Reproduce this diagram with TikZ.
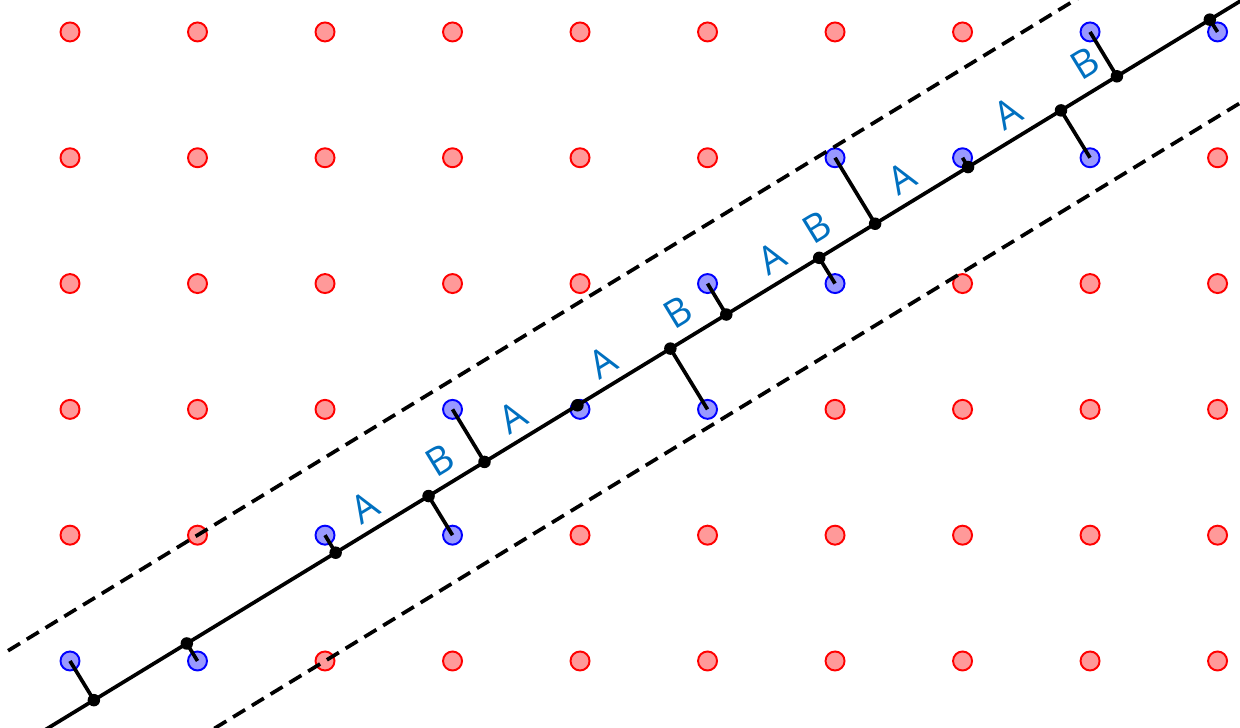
\documentclass[tikz,border=0pt]{standalone}
\usepackage{fontspec}
\setsansfont{Open Sans}
\usetikzlibrary{calc}
\definecolor{tilecol}{HTML}{0070C0}
\definecolor{offfill}{HTML}{FF9999}
\definecolor{onfill}{HTML}{9999FF}

\begin{document}
\begin{tikzpicture}[
  x=2.55cm, y=2.516cm,
  latpt/.style={circle, draw=red, fill=offfill, line width=1.1pt,
                minimum size=0.38cm, inner sep=0pt},
  inpt/.style={latpt, draw=blue, fill=onfill},
  projdot/.style={circle, fill=black, minimum size=0.25cm, inner sep=0pt},
  cutline/.style={line width=2.1pt},
  window/.style={line width=2.1pt, dash pattern=on 8pt off 4.5pt},
  tile/.style={text=tilecol, font=\sffamily\fontsize{22}{26}\selectfont, rotate=31.4}
]
\pgfmathsetmacro{\tilt}{0.618034}
\useasboundingbox (-0.549,-0.5326) rectangle (9.176,5.254);
\clip (-0.549,-0.5326) rectangle (9.176,5.254);

% lattice, points inside the strip in blue
\foreach \i in {0,...,9}
  \foreach \j in {0,...,5} {
    \pgfmathtruncatemacro{\inside}{(\j > \tilt*(\i-2)) && (\j < 1+\tilt*(\i-1))}
    \ifnum\inside=1
      \node[inpt] (p-\i-\j) at (\i,\j) {};
    \else
      \node[latpt] (p-\i-\j) at (\i,\j) {};
    \fi
  }

% strip and cut line
\coordinate (up-a) at (-0.486, {1+\tilt*(-0.486-1)});
\coordinate (up-b) at (9.3, {1+\tilt*(9.3-1)});
\coordinate (lo-a) at (-0.486, {\tilt*(-0.486-2)});
\coordinate (lo-b) at (9.3, {\tilt*(9.3-2)});
\coordinate (mid-a) at (-0.486, {0.5+\tilt*(-0.486-1.5)});
\coordinate (mid-b) at (9.3, {0.5+\tilt*(9.3-1.5)});

% projections onto the cut line
\foreach \i/\j in {0/0,1/0,2/1,3/1,3/2,4/2,5/2,5/3,6/3,6/4,7/4,8/4,8/5,9/5} {
  \coordinate (q-\i-\j) at ($(mid-a)!(p-\i-\j)!(mid-b)$);
  \draw[cutline] (p-\i-\j.center) -- (q-\i-\j);
}
\draw[window] (up-a) -- (up-b);
\draw[window] (lo-a) -- (lo-b);
\draw[cutline] (mid-a) -- (mid-b);
\foreach \i/\j in {0/0,1/0,2/1,3/1,3/2,4/2,5/2,5/3,6/3,6/4,7/4,8/4,8/5,9/5}
  \node[projdot] (d-\i-\j) at (q-\i-\j) {};

% tile labels
\foreach \x/\y/\lab [count=\n] in {2.314/1.224/A, 2.902/1.598/B, 3.475/1.940/A,
    4.180/2.377/A, 4.769/2.774/B, 5.506/3.203/A, 5.859/3.450/B,
    6.525/3.839/A, 7.357/4.356/A, 7.961/4.754/B}
  \node[tile] (t\n) at (\x,\y) {\lab};
\end{tikzpicture}
\end{document}
